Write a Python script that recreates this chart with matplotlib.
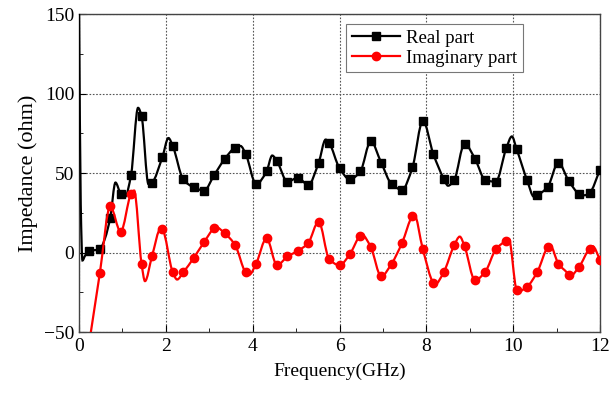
import numpy as np
import matplotlib.pyplot as plt
from matplotlib.path import Path
from matplotlib.patches import PathPatch
from matplotlib.lines import Line2D
from matplotlib.ticker import MultipleLocator

plt.rcParams['font.family'] = ['Liberation Serif', 'DejaVu Serif']

# sampled frequencies (GHz) where the markers sit
freq = [0.24, 0.48, 0.72, 0.96, 1.20, 1.44, 1.68, 1.92, 2.16, 2.40,
        2.64, 2.88, 3.12, 3.36, 3.60, 3.84, 4.08, 4.32, 4.56, 4.80,
        5.04, 5.28, 5.52, 5.76, 6.00, 6.24, 6.48, 6.72, 6.96, 7.20,
        7.44, 7.68, 7.92, 8.16, 8.40, 8.64, 8.88, 9.12, 9.36, 9.60,
        9.84, 10.08, 10.32, 10.56, 10.80, 11.04, 11.28, 11.52, 11.76, 12.00]

real_z = [1, 2, 22, 37, 49, 86, 44, 60, 67, 46,
          41, 39, 49, 59, 66, 62, 43, 51, 57.5, 44.5,
          47, 42.5, 56.5, 69, 53, 46, 51, 70, 56.5, 43,
          39.5, 53.5, 83, 62, 46.5, 45.5, 68.5, 59, 45.5, 44.5,
          65.5, 65, 45.5, 36, 41.5, 56.5, 45, 37, 37.5, 52]

imag_z = [-56, -13, 29, 13, 37, -7, -2.5, 14.5, -12.5, -12.5,
          -3.5, 6.5, 15.5, 12, 4.5, -12.5, -7, 9, -8, -2.5,
          1, 6, 19.5, -4, -8, -1, 10.5, 3.5, -15, -7,
          6, 23, 2, -19, -12.5, 4.5, 4, -17.5, -12, 2,
          7.5, -23.5, -21.5, -12, 3.5, -7, -14, -9, 2.5, -4.5]

# extra points of the curves between markers (peaks, dips, start)
real_f_extra = [0.0, 0.04, 0.08, 0.14, 0.60, 0.84, 1.06, 1.36, 1.60, 2.06,
                3.72, 4.45, 5.68, 8.50, 9.97, 10.48, 11.64]
real_z_extra = [160, 30, -5, -2, 9, 44, 35, 91, 43, 72,
                67, 61, 71, 42, 73, 35, 36]

imag_f_extra = [1.27, 1.52, 1.88, 2.26, 3.15, 3.92, 6.52, 7.72, 8.20, 8.77,
                9.90, 10.12, 10.85, 11.30, 11.83]
imag_z_extra = [39, -18, 15, -17, 16, -14, 11, 24, -20, 10,
                8.5, -24.5, 4.5, -15, 4]


def curve(f, z, f_extra, z_extra):
    x = np.array(f + f_extra, dtype=float)
    y = np.array(z + z_extra, dtype=float)
    order = np.argsort(x)
    return x[order], y[order]


def smooth_path(x, y):
    # cubic Bezier through every point, slopes chosen like pchip
    h = np.diff(x)
    d = np.diff(y) / h
    m = np.zeros_like(y)
    m[0], m[-1] = d[0], d[-1]
    for i in range(1, len(x) - 1):
        if d[i - 1] * d[i] > 0:
            w1 = 2 * h[i] + h[i - 1]
            w2 = h[i] + 2 * h[i - 1]
            m[i] = (w1 + w2) / (w1 / d[i - 1] + w2 / d[i])
    verts = [(x[0], y[0])]
    codes = [Path.MOVETO]
    for i in range(len(x) - 1):
        verts += [(x[i] + h[i] / 3, y[i] + m[i] * h[i] / 3),
                  (x[i + 1] - h[i] / 3, y[i + 1] - m[i + 1] * h[i] / 3),
                  (x[i + 1], y[i + 1])]
        codes += [Path.CURVE4] * 3
    return Path(verts, codes)


fig = plt.figure(figsize=(6.11, 3.98), dpi=100)
ax = fig.add_axes([0.1293, 0.1658, 0.8527, 0.799])

rx, ry = curve(freq, real_z, real_f_extra, real_z_extra)
ix, iy = curve(freq, imag_z, imag_f_extra, imag_z_extra)

ax.add_patch(PathPatch(smooth_path(rx, ry), fill=False, edgecolor='black',
                       lw=1.6, zorder=3))
ax.plot(freq, real_z, 's', color='black', ms=5.5, zorder=3)
ax.add_patch(PathPatch(smooth_path(ix, iy), fill=False, edgecolor='red',
                       lw=1.6, zorder=4))
ax.plot(freq, imag_z, 'o', color='red', ms=6, zorder=4)

h1 = Line2D([], [], ls='-', marker='s', color='black', lw=1.6, ms=5.5)
h2 = Line2D([], [], ls='-', marker='o', color='red', lw=1.6, ms=6)
leg = ax.legend([h1, h2], ['Real part', 'Imaginary part'],
                loc='upper left', bbox_to_anchor=(0.5125, 0.9686),
                fontsize=13.5, fancybox=False, framealpha=1,
                handlelength=2.6, handletextpad=0.3, borderpad=0.3,
                labelspacing=0.15, borderaxespad=0)
leg.get_frame().set_edgecolor('#777777')
leg.get_frame().set_linewidth(0.8)

ax.set_xlim(0, 12)
ax.set_ylim(-50, 150)
ax.xaxis.set_major_locator(MultipleLocator(2))
ax.xaxis.set_minor_locator(MultipleLocator(1))
ax.yaxis.set_major_locator(MultipleLocator(50))
ax.yaxis.set_minor_locator(MultipleLocator(25))
ax.tick_params(which='both', direction='in', top=False, right=False,
               labelsize=14)
ax.tick_params(which='major', length=5)
ax.tick_params(which='minor', length=3)
ax.tick_params(axis='x', pad=4)

ax.grid(True, which='major', linestyle=(0, (1.5, 1.5)), color='#555555', lw=0.8)
ax.set_axisbelow(True)
for s in ax.spines.values():
    s.set_color('#444444')
    s.set_linewidth(1.0)

ax.set_xlabel('Frequency(GHz)', fontsize=14, labelpad=6)
ax.set_ylabel('Impedance (ohm)', fontsize=16, labelpad=4)

fig.savefig('out.png', dpi=100)
